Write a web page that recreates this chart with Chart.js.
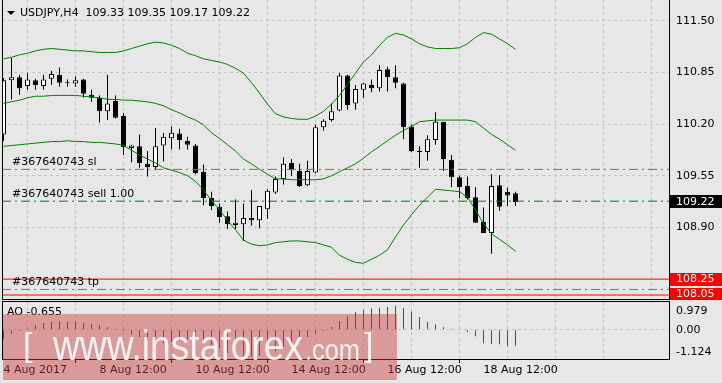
<!DOCTYPE html>
<html>
<head>
<meta charset="utf-8">
<script src="https://cdn.jsdelivr.net/npm/chart.js@4.4.0/dist/chart.umd.min.js"></script>
<style>
  html, body { margin: 0; padding: 0; background: #e7e7e7; }
  #wrap { position: relative; width: 722px; height: 383px; overflow: hidden; background: #e7e7e7; }
  #main { position: absolute; left: 0; top: 0; }
  #ao { position: absolute; left: 0; top: 300px; }
</style>
</head>
<body>
<div id="wrap">
  <canvas id="main" width="722" height="300"></canvas>
  <canvas id="ao" width="722" height="83"></canvas>
</div>
<script>
// USDJPY H4 candles (bar 0 = 4 Aug 2017)
let open = [110.07,110.75,110.79,110.68,110.75,110.68,110.77,110.82,110.73,110.71,
            110.76,110.57,110.53,110.36,110.49,110.30,109.90,109.92,109.70,109.66,
            109.93,110.02,110.08,109.99,109.93,109.60,109.27,109.16,109.04,108.93,
            108.94,109.02,108.99,109.13,109.34,109.51,109.71,109.61,109.43,109.59,
            110.16,110.25,110.37,110.81,110.46,110.63,110.69,110.65,110.89,110.79,
            110.71,110.17,109.86,109.85,110.00,110.23,109.75,109.53,109.42,109.28,
            108.97,108.83,109.43,109.35,109.33]
let high = [110.78,111.03,110.82,110.84,110.77,110.82,110.87,110.91,110.76,110.80,
            110.77,110.63,110.56,110.82,110.56,110.34,109.94,110.07,109.86,110.15,
            110.09,110.17,110.14,110.04,109.95,109.69,109.35,109.20,109.10,109.25,
            109.20,109.37,109.17,109.38,109.54,109.78,109.76,109.70,109.74,110.19,
            110.26,110.46,110.84,110.82,110.69,110.72,110.76,110.94,110.92,110.94,
            110.72,110.19,109.92,110.06,110.35,110.23,109.81,109.55,109.54,109.41,
            109.15,109.57,109.56,109.40,109.35]
let low = [109.99,110.51,110.57,110.63,110.63,110.63,110.69,110.67,110.67,110.67,
           110.53,110.48,110.22,110.25,110.27,109.81,109.72,109.65,109.54,109.62,
           109.73,109.88,109.88,109.88,109.57,109.18,109.12,108.96,108.88,108.88,
           108.73,108.92,108.89,109.01,109.32,109.44,109.55,109.41,109.42,109.58,
           110.12,110.23,110.36,110.38,110.38,110.53,110.60,110.61,110.61,110.65,
           110.01,109.85,109.65,109.74,109.94,109.61,109.41,109.27,109.25,108.96,
           108.83,108.57,109.11,109.17,109.17]
let close = [110.75,110.79,110.65,110.76,110.69,110.76,110.83,110.72,110.72,110.75,
             110.58,110.53,110.36,110.46,110.28,109.91,109.93,109.71,109.66,109.92,
             110.04,110.09,110.00,109.94,109.58,109.27,109.17,109.03,108.94,108.96,
             109.02,108.99,109.17,109.36,109.51,109.70,109.62,109.42,109.61,110.16,
             110.24,110.36,110.81,110.44,110.64,110.71,110.65,110.88,110.79,110.72,
             110.16,109.86,109.85,110.01,110.23,109.76,109.53,109.41,109.27,108.96,
             108.83,109.42,109.16,109.30,109.22]

// Bollinger bands
let bbUpper = [111.02,111.04,111.07,111.09,111.12,111.14,111.15,111.14,111.13,111.12,
               111.12,111.11,111.10,111.10,111.10,111.12,111.15,111.18,111.21,111.23,
               111.22,111.19,111.15,111.09,111.06,111.02,111.00,110.98,110.95,110.90,
               110.84,110.72,110.59,110.45,110.33,110.29,110.27,110.26,110.26,110.30,
               110.36,110.45,110.56,110.70,110.84,110.98,111.07,111.19,111.29,111.34,
               111.32,111.27,111.21,111.17,111.15,111.15,111.15,111.16,111.21,111.29,
               111.35,111.33,111.27,111.21,111.14]
let bbMiddle = [110.46,110.48,110.50,110.53,110.55,110.55,110.56,110.56,110.56,110.56,
                110.55,110.54,110.53,110.51,110.51,110.50,110.50,110.49,110.48,110.46,
                110.43,110.38,110.34,110.29,110.25,110.19,110.09,110.02,109.94,109.86,
                109.76,109.70,109.63,109.57,109.51,109.51,109.50,109.50,109.50,109.50,
                109.51,109.55,109.60,109.65,109.70,109.77,109.85,109.92,109.99,110.06,
                110.12,110.17,110.23,110.24,110.25,110.25,110.25,110.25,110.25,110.23,
                110.15,110.07,110.01,109.94,109.87]
let bbLower = [109.92,109.93,109.94,109.95,109.96,109.97,109.98,109.98,109.99,109.98,
               109.98,109.97,109.97,109.96,109.95,109.93,109.87,109.81,109.76,109.71,
               109.65,109.62,109.59,109.55,109.48,109.37,109.24,109.12,108.99,108.87,
               108.74,108.69,108.67,108.68,108.71,108.72,108.73,108.73,108.72,108.71,
               108.68,108.65,108.55,108.50,108.46,108.45,108.50,108.55,108.62,108.78,
               108.93,109.06,109.18,109.28,109.38,109.37,109.36,109.35,109.28,109.12,
               108.95,108.82,108.75,108.68,108.60]

// Awesome oscillator
let ao = [-0.37,-0.18,-0.05,0.04,0.18,0.27,0.32,0.35,0.32,0.34,
          0.29,0.24,0.18,0.10,0.04,-0.06,-0.20,-0.30,-0.43,-0.52,
          -0.55,-0.50,-0.46,-0.40,-0.41,-0.49,-0.62,-0.78,-0.95,-1.06,
          -1.124,-1.10,-1.07,-0.99,-0.88,-0.71,-0.57,-0.43,-0.30,-0.18,
          -0.05,0.11,0.36,0.55,0.73,0.80,0.87,0.90,0.93,0.979,
          0.89,0.75,0.52,0.32,0.21,0.10,0.04,0.02,-0.10,-0.27,
          -0.55,-0.59,-0.60,-0.68,-0.655]

// axes
let priceTicks = [111.50, 110.85, 110.20, 109.55, 108.90]
let aoTicks = [0.979, 0, -1.124]
let timeLabels = ['4 Aug 2017', '8 Aug 12:00', '10 Aug 12:00', '14 Aug 12:00', '16 Aug 12:00', '18 Aug 12:00']
let timeLabelBars = [0, 12, 24, 36, 48, 60]
let gridBars = [0, 6, 12, 18, 24, 30, 36, 42, 48, 54, 60, 66, 72, 78]

// order lines and horizontal lines
let orderNames = ['#367640743 sl', '#367640743 sell 1.00', '#367640743 tp']
let orderLevels = [109.63, 109.23, 108.12]
let hLevels = [108.25, 108.05]
let bid = 109.22

const xMin = -0.1875, xMax = 83.1875
const GRID = '#c4c4c4'
const GREEN = '#008000', RED = '#ff0000', ORANGE = '#ff4500'
const DASHDOT = [9, 4, 2, 4]

Chart.defaults.font.family = '"DejaVu Sans", sans-serif'
Chart.defaults.font.size = 11
Chart.defaults.color = '#000'

function hline(v, color, dash) {
    return {
        type: 'line', data: [{x: xMin, y: v}, {x: xMax, y: v}],
        borderColor: color, borderWidth: 1, borderDash: dash,
        pointRadius: 0, order: 0
    }
}
function band(arr) {
    return {
        type: 'line', data: arr.map((v, i) => ({x: i, y: v})),
        borderColor: GREEN, borderWidth: 1, pointRadius: 0, tension: 0, order: 0
    }
}
// keep the plot area exactly where the frame is
function noPad(s) {
    s.paddingTop = 0; s.paddingBottom = 0; s.paddingLeft = 0; s.paddingRight = 0
}

// header, order labels, price boxes, frame
const mainDecor = {
    id: 'mainDecor',
    afterDraw(chart) {
        const {ctx, chartArea: a, scales: {y}} = chart
        ctx.save()
        ctx.strokeStyle = '#000'
        ctx.lineWidth = 1
        ctx.beginPath()
        ctx.moveTo(a.left + 0.5, 0)
        ctx.lineTo(a.left + 0.5, a.bottom + 0.5)
        ctx.lineTo(a.right + 0.5, a.bottom + 0.5)
        ctx.lineTo(a.right + 0.5, 0)
        ctx.stroke()

        ctx.fillStyle = '#000'
        ctx.beginPath()
        ctx.moveTo(7, 11); ctx.lineTo(15, 11); ctx.lineTo(11, 15); ctx.closePath()
        ctx.fill()
        ctx.font = '11px "DejaVu Sans"'
        ctx.textBaseline = 'middle'
        ctx.textAlign = 'left'
        let n = close.length - 1
        let head = 'USDJPY,H4  ' + [open[n], high[n], low[n], close[n]].map(v => v.toFixed(2)).join(' ')
        ctx.fillText(head, 20, 13.5)

        orderNames.forEach((t, i) => {
            ctx.fillText(t, 12, y.getPixelForValue(orderLevels[i]) - 7)
        })

        let boxes = [[bid, '#000'], [hLevels[0], RED], [hLevels[1], RED]]
        boxes.forEach(([v, c]) => {
            let yc = Math.min(y.getPixelForValue(v), a.bottom - 5)
            ctx.fillStyle = c
            ctx.fillRect(a.right + 1, Math.round(yc - 6.5), 52, 13)
            ctx.fillStyle = '#fff'
            ctx.fillText(v.toFixed(2), a.right + 7, yc)
        })
        ctx.restore()
    }
}

// AO caption, scale labels, frame and watermark
const aoDecor = {
    id: 'aoDecor',
    afterDraw(chart) {
        const {ctx, chartArea: a, scales: {y}} = chart
        ctx.save()
        ctx.strokeStyle = '#000'
        ctx.lineWidth = 1
        ctx.strokeRect(a.left + 0.5, a.top - 0.5, a.right - a.left, a.bottom - a.top + 1)

        ctx.fillStyle = '#000'
        ctx.font = '11px "DejaVu Sans"'
        ctx.textBaseline = 'middle'
        ctx.fillText('AO ' + ao[ao.length - 1].toFixed(3), 7, 12.5)

        y.ticks.forEach(t => {
            let p = Math.min(Math.max(y.getPixelForValue(t.value), a.top + 8.7), a.bottom - 7.3)
            ctx.fillText(t.value === 0 ? '0.00' : String(t.value), a.right + 7, p)
        })

        // watermark
        ctx.fillStyle = 'rgba(205,60,60,0.45)'
        ctx.fillRect(3, 14, 394, 66)
        ctx.fillStyle = 'rgba(255,255,255,0.88)'
        ctx.textBaseline = 'alphabetic'
        ctx.font = '34px "Liberation Sans"'
        ctx.fillText('[', 23, 56)
        ctx.fillText(']', 364, 56)
        drawFit(ctx, 'www.instaforex', '42px "Liberation Sans"', 53, 59.5, 250)
        drawFit(ctx, '.com', '29px "Liberation Sans"', 305, 59.5, 55)
        ctx.restore()
    }
}
function drawFit(ctx, text, font, x, y, width) {
    ctx.font = font
    let w = ctx.measureText(text).width
    ctx.save()
    ctx.translate(x, y)
    ctx.scale(width / w, 1)
    ctx.fillText(text, 0, 0)
    ctx.restore()
}

let mainChart = new Chart(document.getElementById('main'), {
    type: 'bar',
    data: {
        datasets: [
            band(bbUpper), band(bbMiddle), band(bbLower),
            hline(orderLevels[0], ORANGE, DASHDOT),
            hline(orderLevels[1], GREEN, DASHDOT),
            hline(orderLevels[2], ORANGE, DASHDOT),
            hline(hLevels[0], RED, []),
            hline(hLevels[1], RED, []),
            {
                // candle bodies
                data: open.map((o, i) => ({x: i, y: [Math.min(o, close[i]), Math.max(o, close[i])]})),
                backgroundColor: open.map((o, i) => close[i] >= o ? '#fff' : '#000'),
                borderColor: '#000', borderWidth: 1, borderSkipped: false,
                barThickness: 5, maxBarThickness: 5, grouped: false, inflateAmount: 0, order: 1
            },
            {
                // wicks
                data: low.map((l, i) => ({x: i, y: [l, high[i]]})),
                backgroundColor: '#000', borderWidth: 0,
                barThickness: 1, maxBarThickness: 1, grouped: false, inflateAmount: 0, order: 2
            }
        ]
    },
    options: {
        responsive: false, animation: false, devicePixelRatio: 1, events: [],
        layout: {padding: {left: 2, top: 0, right: 0, bottom: 1}},
        plugins: {legend: {display: false}, tooltip: {enabled: false}},
        scales: {
            x: {
                type: 'linear', min: xMin, max: xMax, offset: false,
                afterBuildTicks: s => { s.ticks = gridBars.filter(v => v > 0).map(v => ({value: v})) },
                afterFit: s => { s.height = 0; noPad(s) },
                ticks: {display: false},
                grid: {color: GRID, drawTicks: false},
                border: {display: false, dash: [3, 3]}
            },
            y: {
                position: 'right', min: 108.0, max: 111.76,
                afterBuildTicks: s => { s.ticks = priceTicks.map(v => ({value: v})) },
                afterFit: s => { s.width = 53; noPad(s) },
                ticks: {padding: 7, callback: v => v.toFixed(2)},
                grid: {color: GRID, drawTicks: false},
                border: {display: false, dash: [3, 3]}
            }
        }
    },
    plugins: [mainDecor]
})

let aoChart = new Chart(document.getElementById('ao'), {
    type: 'bar',
    data: {
        datasets: [{
            data: ao.map((v, i) => ({x: i, y: v})),
            backgroundColor: ao.map((v, i) => (i === 0 || v > ao[i - 1]) ? GREEN : RED),
            borderWidth: 0, barThickness: 1, maxBarThickness: 1, grouped: false, inflateAmount: 0
        }]
    },
    options: {
        responsive: false, animation: false, devicePixelRatio: 1, events: [],
        layout: {padding: {left: 2, top: 2, right: 0, bottom: 0}},
        plugins: {legend: {display: false}, tooltip: {enabled: false}},
        scales: {
            x: {
                type: 'linear', min: xMin, max: xMax, offset: false,
                afterBuildTicks: s => { s.ticks = gridBars.map(v => ({value: v})) },
                afterFit: s => { s.height = 24; noPad(s) },
                ticks: {
                    autoSkip: false, maxRotation: 0, align: 'start', padding: 1,
                    callback: v => { let k = timeLabelBars.indexOf(v); return k >= 0 ? timeLabels[k] : '' }
                },
                grid: {
                    color: c => (c.tick && c.tick.value > 0) ? GRID : 'rgba(0,0,0,0)',
                    tickColor: c => (c.tick && timeLabelBars.includes(c.tick.value)) ? '#000' : 'rgba(0,0,0,0)',
                    tickLength: 4
                },
                border: {display: false, dash: [3, 3]}
            },
            y: {
                position: 'right', min: -1.20, max: 1.135,
                afterBuildTicks: s => { s.ticks = aoTicks.map(v => ({value: v})) },
                afterFit: s => { s.width = 53; noPad(s) },
                ticks: {display: false},
                grid: {color: c => (c.tick && c.tick.value === 0) ? GRID : 'rgba(0,0,0,0)', drawTicks: false},
                border: {display: false, dash: [3, 3]}
            }
        }
    },
    plugins: [aoDecor]
})
</script>
</body>
</html>
